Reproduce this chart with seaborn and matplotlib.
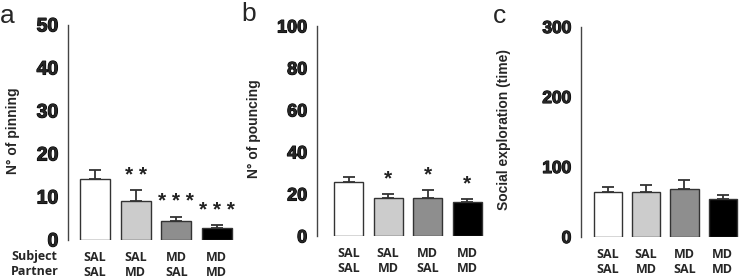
import matplotlib
matplotlib.use("Agg")
import matplotlib.pyplot as plt
import matplotlib.patheffects as pe
import seaborn as sns
import pandas as pd

# groups (subject / partner)
groups = ["SAL\nSAL", "SAL\nMD", "MD\nSAL", "MD\nMD"]
bar_colors = ["#ffffff", "#cccccc", "#8e8e8e", "#000000"]

# panel a: pinning
pinning_mean = [14.2, 9.1, 4.4, 2.7]
pinning_sem = [2.1, 2.5, 1.0, 0.7]
pinning_stars = ["", "* *", "* * *", "* * *"]

# panel b: pouncing
pouncing_mean = [25.6, 17.9, 18.3, 16.3]
pouncing_sem = [2.6, 2.1, 3.6, 1.3]
pouncing_stars = ["", "*", "*", "*"]

# panel c: social exploration
explore_mean = [65, 64, 68, 54]
explore_sem = [7, 11, 13, 6]
explore_stars = ["", "", "", ""]

sns.set_style("white")
plt.rcParams["font.family"] = ["Liberation Sans", "DejaVu Sans"]

fig = plt.figure(figsize=(7.47, 2.79), dpi=100)
W, H = 747, 279
heavy = [pe.withStroke(linewidth=0.8, foreground="black")]


def px_axes(x0, x1, ytop, ybot):
    return fig.add_axes([x0 / W, (H - ybot) / H, (x1 - x0) / W, (ybot - ytop) / H])


panels = [
    dict(letter="a", mean=pinning_mean, sem=pinning_sem, stars=pinning_stars,
         ylabel="N° of pinning", ymax=50, step=10, box=(68, 235, 25, 240),
         xl=(-0.67, 3.45), letter_xy=(0, 4), ylab_x=13, fs=14),
    dict(letter="b", mean=pouncing_mean, sem=pouncing_sem, stars=pouncing_stars,
         ylabel="N° of pouncing", ymax=100, step=20, box=(317, 485, 26, 236),
         xl=(-0.8, 3.45), letter_xy=(241, 2), ylab_x=254, fs=13),
    dict(letter="c", mean=explore_mean, sem=explore_sem, stars=explore_stars,
         ylabel="Social exploration (time)", ymax=300, step=100, box=(581, 740, 27, 237),
         xl=(-0.7, 3.45), letter_xy=(493, 4), ylab_x=504, fs=12.5),
]

for p in panels:
    x0, x1, yt, yb = p["box"]
    ax = px_axes(x0, x1, yt, yb)
    df = pd.DataFrame({"group": groups, "value": p["mean"]})
    sns.barplot(data=df, x="group", y="value", hue="group", palette=bar_colors,
                order=groups, hue_order=groups, legend=False, width=0.74,
                edgecolor="#333333", linewidth=1.0, errorbar=None, ax=ax)
    xs = list(range(len(groups)))
    ax.errorbar(xs, p["mean"], yerr=[[0] * 4, p["sem"]], fmt="none",
                ecolor="#333333", elinewidth=1.3, capsize=4, capthick=1.3, zorder=3)
    for x, m, s, st in zip(xs, p["mean"], p["sem"], p["stars"]):
        if st:
            ax.annotate(st, (x, m + s), xytext=(0, 4), textcoords="offset points",
                        ha="center", va="bottom", fontsize=15, fontweight="bold",
                        color="#222222")
    ax.set_ylim(0, p["ymax"])
    ax.set_xlim(*p["xl"])
    yt_vals = list(range(0, p["ymax"] + 1, p["step"]))
    ax.set_yticks(yt_vals, labels=[str(v) for v in yt_vals], fontweight="bold",
                  fontsize=p["fs"], path_effects=heavy)
    ax.tick_params(axis="y", length=5, width=1, color="#444444", pad=2)
    ax.set_xticks(xs, labels=groups, family="Open Sans", fontweight="bold",
                  fontsize=9, linespacing=1.2)
    ax.tick_params(axis="x", length=0, pad=8)
    for side in ["top", "right", "bottom"]:
        ax.spines[side].set_visible(False)
    ax.spines["left"].set_color("#444444")
    ax.spines["left"].set_linewidth(1)
    ax.set_xlabel("")
    ax.set_ylabel("")
    fig.text(p["ylab_x"] / W, 1 - ((yt + yb) / 2 - 2) / H, p["ylabel"],
             rotation=90, ha="center", va="center", fontsize=10, fontweight="bold")
    fig.text(p["letter_xy"][0] / W, 1 - p["letter_xy"][1] / H, p["letter"],
             ha="left", va="top", fontsize=19)

fig.text(11 / W, 1 - 250 / H, "Subject\nPartner", ha="left", va="top",
         family="Open Sans", fontweight="bold", fontsize=9, linespacing=1.2)

fig.savefig("out.png", dpi=100)
